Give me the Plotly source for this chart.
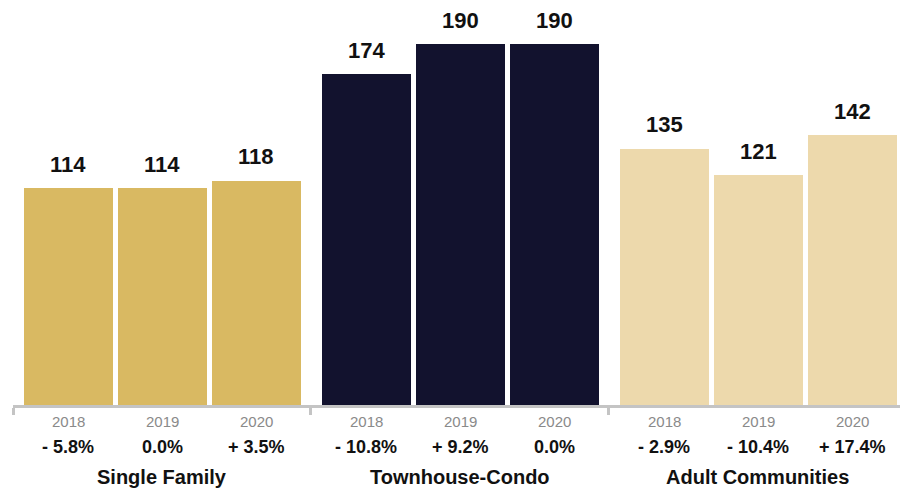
import plotly.graph_objects as go

# Median days on market by property type and year
groups = ["Single Family", "Townhouse-Condo", "Adult Communities"]
years = ["2018", "2019", "2020"]
values = {
    "Single Family": [114, 114, 118],
    "Townhouse-Condo": [174, 190, 190],
    "Adult Communities": [135, 121, 142],
}
changes = {
    "Single Family": ["- 5.8%", "0.0%", "+ 3.5%"],
    "Townhouse-Condo": ["- 10.8%", "+ 9.2%", "0.0%"],
    "Adult Communities": ["- 2.9%", "- 10.4%", "+ 17.4%"],
}
colors = {
    "Single Family": "#D9B962",
    "Townhouse-Condo": "#12122E",
    "Adult Communities": "#EDD9AC",
}

FONT = "Liberation Sans, Arial, Helvetica, sans-serif"
AXIS_GRAY = "#C4C4C4"

# layout of the category axis (in bar-slot units)
slot = 1.0
group_w = 3.17
first_offset = 0.59
bar_w = 0.947

fig = go.Figure()
annotations = []

for g, name in enumerate(groups):
    xs = [g * group_w + first_offset + i * slot for i in range(len(years))]
    fig.add_trace(go.Bar(
        x=xs, y=values[name], width=bar_w,
        marker=dict(color=colors[name], line=dict(width=0)),
        name=name, showlegend=False, hoverinfo="skip",
    ))
    for x, v, yr, ch in zip(xs, values[name], years, changes[name]):
        annotations.append(dict(
            x=x, y=v, xref="x", yref="y", text=f"<b>{v}</b>",
            showarrow=False, yanchor="middle", yshift=24,
            font=dict(family=FONT, size=22, color="#111111"),
        ))
        annotations.append(dict(
            x=x, y=0, xref="x", yref="y", text=yr,
            showarrow=False, yanchor="middle", yshift=-16,
            font=dict(family=FONT, size=15, color="#8A8A8A"),
        ))
        annotations.append(dict(
            x=x, y=0, xref="x", yref="y", text=f"<b>{ch}</b>",
            showarrow=False, yanchor="middle", yshift=-42,
            font=dict(family=FONT, size=18, color="#111111"),
        ))
    annotations.append(dict(
        x=g * group_w + group_w / 2, y=0, xref="x", yref="y",
        text=f"<b>{name}</b>", showarrow=False, yanchor="middle", yshift=-72,
        font=dict(family=FONT, size=20, color="#111111"),
    ))

boundaries = [g * group_w for g in range(len(groups))]

fig.update_layout(
    width=900, height=492,
    margin=dict(l=13, r=0, t=0, b=87),
    paper_bgcolor="white", plot_bgcolor="white",
    bargap=0,
    annotations=annotations,
    xaxis=dict(
        range=[0, 887 / 94], showgrid=False, zeroline=False,
        showticklabels=False, ticks="",
        showline=True, linecolor=AXIS_GRAY, linewidth=3,
        minor=dict(tickmode="array", tickvals=boundaries, ticks="outside",
                   ticklen=7, tickwidth=3, tickcolor=AXIS_GRAY),
        fixedrange=True,
    ),
    yaxis=dict(
        range=[0, 405 / 1.9], visible=False, fixedrange=True,
    ),
    font=dict(family=FONT),
)

fig.write_html("out.html", config={"displayModeBar": False})
